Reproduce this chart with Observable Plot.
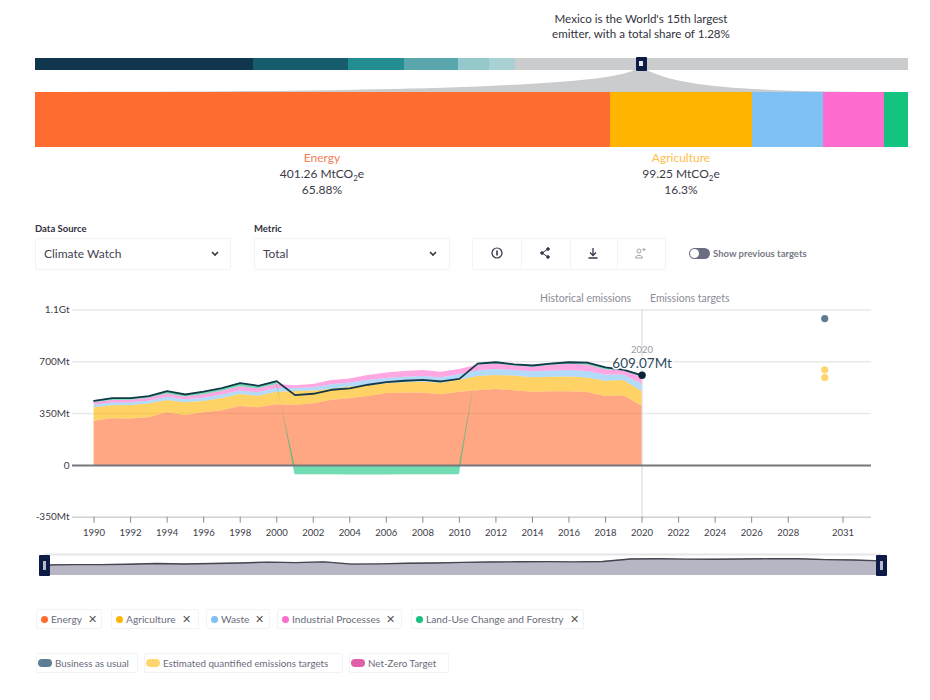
<!DOCTYPE html>
<html><head><meta charset="utf-8">
<script src="https://cdn.jsdelivr.net/npm/d3@7"></script>
<script src="https://cdn.jsdelivr.net/npm/@observablehq/plot@0.6"></script>
<style>
html,body{margin:0;padding:0;background:#fff;}
body{width:930px;height:700px;position:relative;overflow:hidden;font-family:Lato,sans-serif;color:#3a3a46;}
.a{position:absolute;}
.a svg{display:block;max-width:none;}
.c{text-align:center;transform:translateX(-50%);white-space:nowrap;}
.lab{font-size:9.5px;font-weight:700;color:#30303c;}
.sel{border:1px solid #f0f3f9;border-radius:2px;height:30px;line-height:30px;font-size:12px;box-sizing:content-box;color:#3f4250;padding-left:8px;}
.chip{border:1px solid #f0f3f9;height:18px;line-height:18px;font-size:10.2px;color:#6a6c7a;white-space:nowrap;box-sizing:content-box;border-radius:2px;}
.dot{display:inline-block;width:7px;height:7px;border-radius:50%;margin:0 3px 0 4px;}
.pill{display:inline-block;width:14px;height:8px;border-radius:4px;margin:0 3px 0 1px;}
.x{margin-left:6px;color:#555;font-size:10.5px;}
sub{font-size:8px;line-height:0;}
</style></head><body>
<div class="a c" style="left:641px;top:11px;font-size:11.6px;line-height:15px;color:#33333d;">Mexico is the World's 15th largest<br>emitter, with a total share of 1.28%</div>
<div id="share" class="a" style="left:0;top:58px;"></div>
<div class="a" style="left:0;top:70px;width:930px;height:22px;background:#cbccce;clip-path:path('M35 22 C 350 22, 600 18, 634 0 L 647 0 C 680 18, 760 22, 908 22 Z');"></div>
<div class="a" style="left:635.5px;top:57px;width:11px;height:14px;background:#0d1b46;border-radius:1px;"></div>
<div class="a" style="left:639px;top:61px;width:4px;height:5px;background:#e8e8ee;"></div>
<div id="sectors" class="a" style="left:0;top:92px;"></div>

<div class="a c" style="left:322px;top:150px;font-size:12px;line-height:16px;color:#3a3a46;"><span style="color:#f0805a">Energy</span><br>401.26 MtCO<sub>2</sub>e<br>65.88%</div>
<div class="a c" style="left:681px;top:150px;font-size:12px;line-height:16px;color:#3a3a46;"><span style="color:#ffbe4a">Agriculture</span><br>99.25 MtCO<sub>2</sub>e<br>16.3%</div>

<div class="a lab" style="left:35px;top:223px;">Data Source</div>
<div class="a sel" style="left:35px;top:238px;width:186px;">Climate Watch</div>
<div class="a lab" style="left:254px;top:223px;">Metric</div>
<div class="a sel" style="left:254px;top:238px;width:186px;">Total</div>
<svg class="a" style="left:209px;top:249px" width="12" height="10" fill="none" stroke="#333" stroke-width="1.6"><path d="M3 3 L6 6 L9 3"/></svg>
<svg class="a" style="left:427px;top:249px" width="12" height="10" fill="none" stroke="#333" stroke-width="1.6"><path d="M3 3 L6 6 L9 3"/></svg>

<div class="a" style="left:472px;top:238px;width:192px;height:30px;border:1px solid #f0f3f9;border-radius:2px;"></div>
<div class="a" style="left:521px;top:238px;width:1px;height:31px;background:#f0f3f9;"></div>
<div class="a" style="left:570px;top:238px;width:1px;height:31px;background:#f0f3f9;"></div>
<div class="a" style="left:617px;top:238px;width:1px;height:31px;background:#f0f3f9;"></div>
<svg class="a" style="left:490px;top:246px" width="14" height="14" fill="none" stroke="#33364a" stroke-width="1.2"><circle cx="7" cy="7" r="5"/><path d="M7 4.5V9.5" stroke-width="1.6"/></svg>
<svg class="a" style="left:538px;top:246px" width="14" height="14" fill="#33364a" stroke="#33364a"><path d="M10 3 L4 7 L10 11" fill="none"/><circle cx="10" cy="3" r="1.3"/><circle cx="4" cy="7" r="1.3"/><circle cx="10" cy="11" r="1.3"/></svg>
<svg class="a" style="left:586px;top:246px" width="14" height="14" fill="none" stroke="#33364a" stroke-width="1.3"><path d="M7 2V9M4 6.5L7 9.5L10 6.5M2.5 12H11.5"/></svg>
<svg class="a" style="left:633px;top:246px" width="14" height="14" fill="none" stroke="#a0a3ae" stroke-width="1"><circle cx="6" cy="5" r="2"/><path d="M2.5 12C2.5 8.5 9.5 8.5 9.5 12Z"/><path d="M11 2V5M9.5 3.5H12.5"/></svg>
<div class="a" style="left:689px;top:248px;width:21px;height:11px;border-radius:5.5px;background:#6b6e80;"></div>
<div class="a" style="left:690px;top:249px;width:9px;height:9px;border-radius:50%;background:#fff;"></div>
<div class="a" style="left:713px;top:248px;font-size:9.5px;font-weight:700;color:#777986;white-space:nowrap;">Show previous targets</div>

<div id="main" class="a" style="left:0;top:290px;"></div>
<div class="a" style="left:540px;top:292px;font-size:10.5px;color:#8a8c98;white-space:nowrap;">Historical emissions</div>
<div class="a" style="left:650px;top:292px;font-size:10.5px;color:#8a8c98;white-space:nowrap;">Emissions targets</div>

<div id="brush" class="a" style="left:0;top:554px;"></div>
<div class="a" style="left:39px;top:555px;width:11px;height:21px;background:#0d1b46;border-radius:1px;"></div>
<div class="a" style="left:43px;top:561px;width:3px;height:9px;background:#b8bac8;"></div>
<div class="a" style="left:875.5px;top:555px;width:11px;height:21px;background:#0d1b46;border-radius:1px;"></div>
<div class="a" style="left:879.5px;top:561px;width:3px;height:9px;background:#b8bac8;"></div>

<div id="chips"></div>

<script>
const years = d3.range(1990, 2021);
const energy = [299,315,313,322,355,337,355,370,398,389,409,407,415,440,450,465,485,490,490,478,495,505,512,505,495,497,497,492,466,470,401];
const agriculture = [91,88,92,93,84,86,77,82,81,79,86,93,87,75,79,75,66,68,72,77,80,95,95,99,97,98,100,98,103,104,99];
const waste = [17,18,18,19,21,21,22,23,24,24,25,19,23,30,27,34,37,38,39,37,37,40,41,38,40,42,44,45,42,36,50];
const industrial = [17,18,18,20,22,18,24,26,28,26,27,19,22,29,27,34,37,39,40,38,36,36,37,30,32,38,42,43,36,31,43];
const landUse = [12,15,13,14,20,17,21,21,25,20,22,-63,-63,-64,-65,-65,-65,-64,-64,-63,-63,12,12,10,11,13,14,17,15,8,17];
const total = [436,454,454,468,502,479,499,522,556,538,569,475,484,511,520,545,562,572,578,567,585,688,697,682,675,688,697,695,662,645,609];

const sectorNames = ["Energy","Agriculture","Waste","Industrial Processes","Land-Use Change and Forestry"];
const sectorColors = ["#ff6c2f","#ffb400","#7fc1f5","#ff6cd0","#14c47e"];
const sectorSeries = [energy,agriculture,waste,industrial,landUse];
const sectorShare = [401.26,99.25,49.6,42.6,17];

const targetYears = [2030,2030,2030];
const targetValues = [992,646,594];
const targetColors = ["#5e7d92","#ffd56f","#ffd56f"];

const xTicks = [...d3.range(1990,2030,2),2031];
const yTicks = [-350,0,350,700,1050];
const yLabels = ["-350Mt","0","350Mt","700Mt","1.1Gt"];

const countryShares = [25,10.8,6.5,6.1,3.6,3.0,45];
const countryColors = ["#113750","#175c6c","#228e92","#59a7ac","#94c8ca","#a9d0d2","#cbccce"];

const rows = sectorNames.flatMap((s,i)=>years.map((y,j)=>({year:y,sector:s,value:sectorSeries[i][j]})));
const lineRows = years.map((y,j)=>({year:y,value:total[j]}));
const last = lineRows[lineRows.length-1];
const targets = targetYears.map((y,i)=>({year:y,value:targetValues[i],color:targetColors[i]}));

function strip(id,values,colors,h){
  const data = values.map((v,i)=>({k:i,v,c:colors[i]}));
  document.getElementById(id).append(Plot.plot({
    width:930,height:h,marginLeft:35,marginRight:22,marginTop:0,marginBottom:0,
    x:{axis:null,domain:[0,d3.sum(values)]},
    marks:[Plot.barX(data,Plot.stackX({x:"v",fill:"c",order:null,inset:0,shapeRendering:"crispEdges"}))]
  }));
}
strip("share",countryShares,countryColors,12);
strip("sectors",sectorShare,sectorColors,55);

document.getElementById("main").append(Plot.plot({
  width:930,height:260,marginLeft:72,marginRight:59,marginTop:19.5,marginBottom:33.3,
  style:{fontFamily:"Lato,sans-serif",background:"transparent",overflow:"visible"},
  x:{domain:[1988.82,2032.56],axis:null},
  y:{domain:[-350,1050],axis:null},
  color:{domain:sectorNames,range:sectorColors},
  marks:[
    Plot.ruleY(yTicks.filter(d=>d!==0&&d!==-350),{stroke:"#e9e9ec",strokeWidth:1.5}),
    Plot.ruleY([-350],{stroke:"#cfcfd4",strokeWidth:1.5}),
    Plot.ruleX([2020],{stroke:"#dedee2",strokeWidth:1.2}),
    Plot.areaY(rows,{x:"year",y:"value",z:"sector",fill:"sector",fillOpacity:0.6,order:null}),
    Plot.ruleY([0],{stroke:"#77777c",strokeWidth:2}),
    Plot.line(lineRows,{x:"year",y:"value",stroke:"#143a4a",strokeWidth:1.8}),
    Plot.axisY({ticks:yTicks,tickSize:0,tickPadding:3,tickFormat:d=>yLabels[yTicks.indexOf(d)],fontSize:10,fill:"#3c3c48",marginLeft:72,label:null}),
    Plot.axisX({ticks:xTicks,tickFormat:d=>String(d),tickSize:6,tickPadding:6,fontSize:9.5,fill:"#3c3c48",stroke:"#8a8a90",label:null}),
    Plot.dot(targets,{x:"year",y:"value",fill:"color",r:3.6}),
    Plot.dot([last],{x:"year",y:"value",fill:"#0c2238",r:3.7}),
    Plot.text([last],{x:"year",y:"value",text:d=>String(d.year),dy:-25,fontSize:9.5,fill:"#9a9aa2"}),
    Plot.text([last],{x:"year",y:"value",text:()=>"609.07Mt",dy:-11.5,fontSize:13.5,fill:"#2b4a5c",stroke:"#fff",strokeWidth:3})
  ]
}));

document.getElementById("brush").append(Plot.plot({
  width:930,height:22,marginLeft:44.5,marginRight:49,marginTop:0,marginBottom:1,
  style:{background:"transparent",overflow:"visible"},
  x:{domain:[1990,2020],axis:null},
  y:{domain:[0,875],axis:null},
  marks:[
    Plot.ruleY([875],{stroke:"#e6e6ea",strokeWidth:2}),
    Plot.areaY(lineRows,{x:"year",y:"value",fill:"#b6b6c4"}),
    Plot.line(lineRows,{x:"year",y:"value",stroke:"#45454f",strokeWidth:1.4})
  ]
}));

const chipRow1 = [[36,64],[111,86],[206,62],[277,123],[411,171]];
const row2Names = ["Business as usual","Estimated quantified emissions targets","Net-Zero Target"];
const row2Colors = ["#5e7d92","#ffd56f","#e05fa8"];
const chipRow2 = [[36,100],[144,197],[349,98]];
const host = document.getElementById("chips");
sectorNames.forEach((n,i)=>{
  const d=document.createElement("div");d.className="a chip";
  d.style.cssText=`left:${chipRow1[i][0]}px;top:609px;width:${chipRow1[i][1]}px;`;
  d.innerHTML=`<span class="dot" style="background:${sectorColors[i]}"></span>${n}<span class="x">✕</span>`;
  host.append(d);
});
row2Names.forEach((n,i)=>{
  const d=document.createElement("div");d.className="a chip";
  d.style.cssText=`left:${chipRow2[i][0]}px;top:653px;width:${chipRow2[i][1]}px;font-size:9.8px;`;
  d.innerHTML=`<span class="pill" style="background:${row2Colors[i]}"></span>${n}`;
  host.append(d);
});
</script>
</body></html>
